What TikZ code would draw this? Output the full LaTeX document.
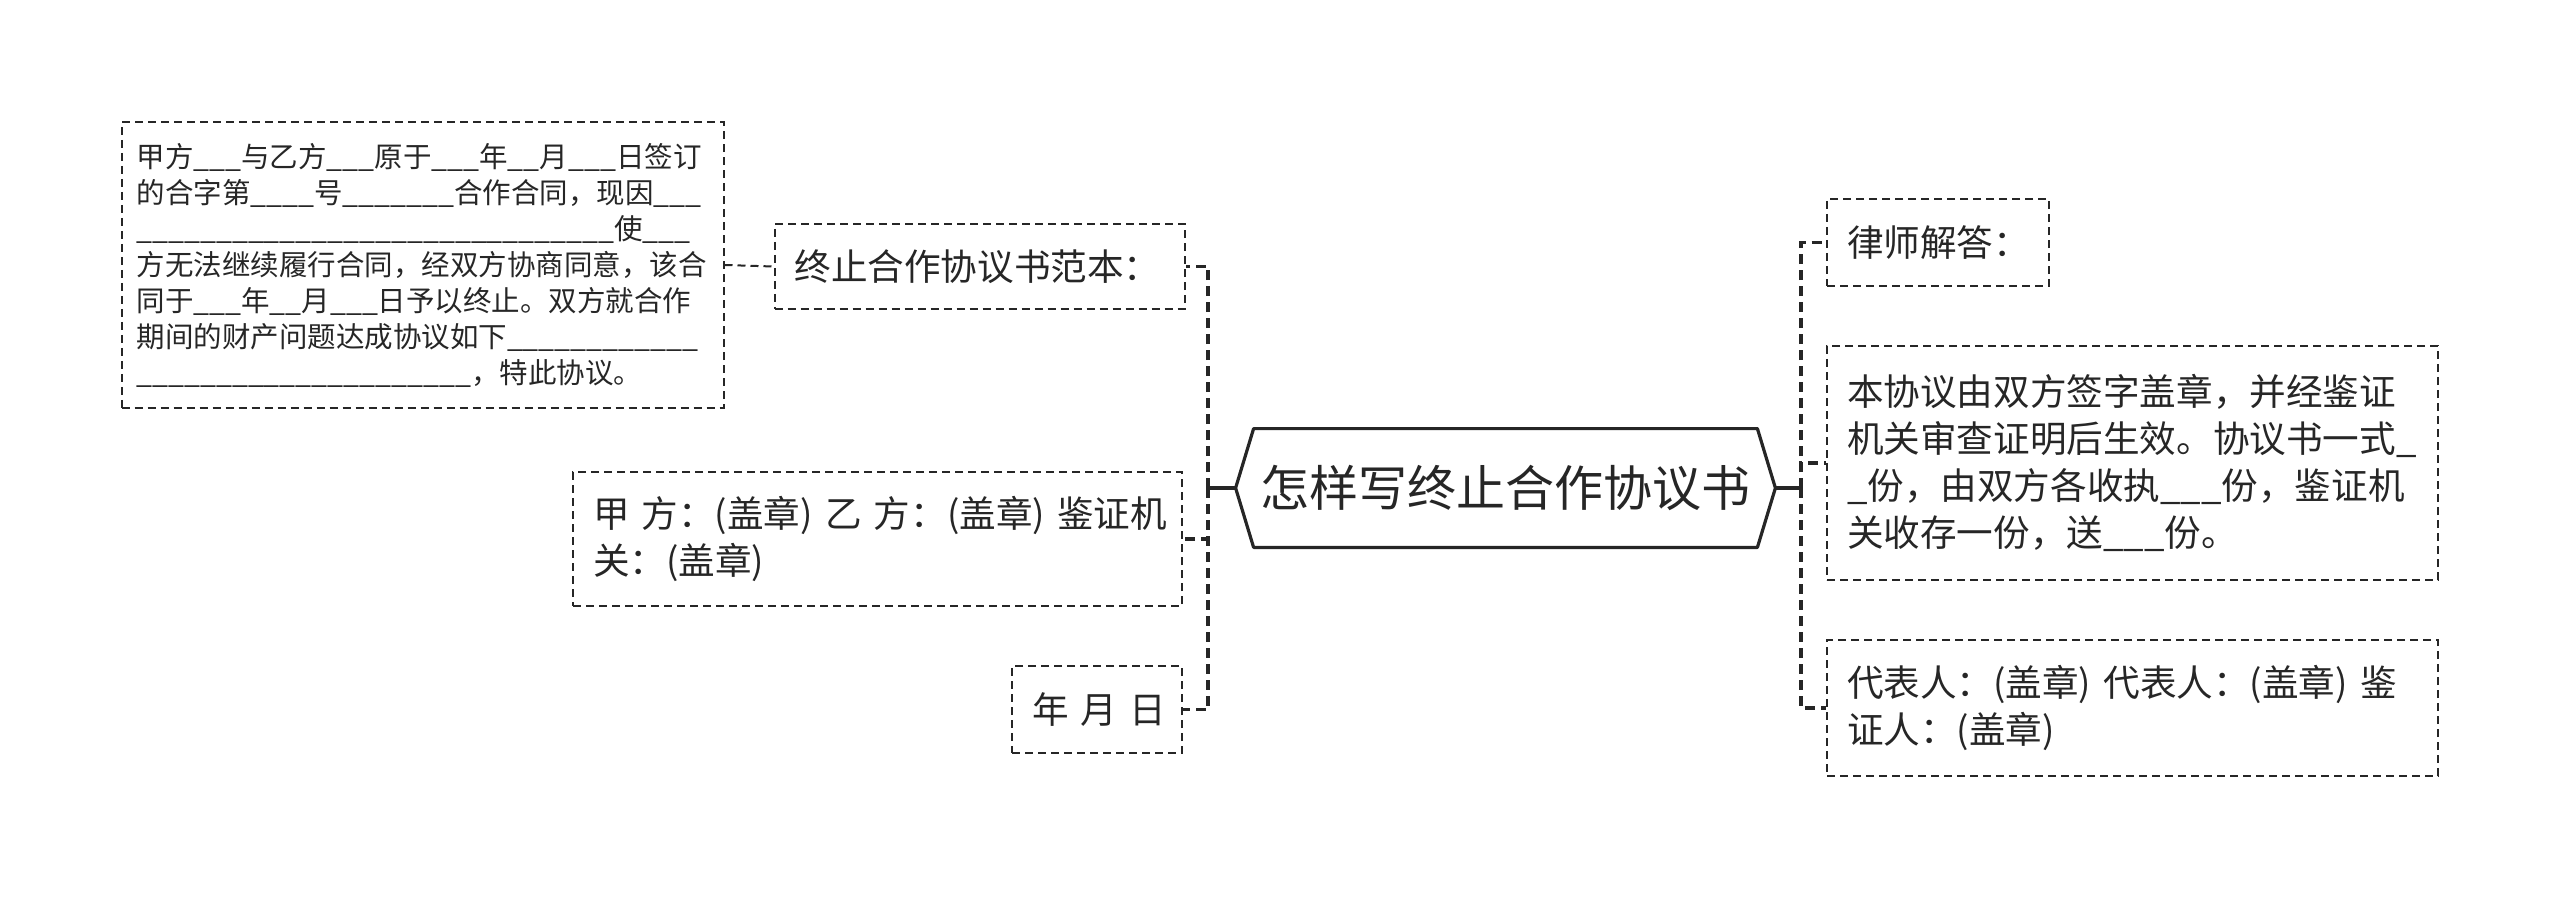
\documentclass[tikz,border=0pt]{standalone}
\usepackage{fontspec}
\setmainfont{Noto Sans CJK SC}
\usetikzlibrary{calc}

\newcommand\blank[1]{\foreach \i in {1,...,#1}{\_}}

\begin{document}
\begin{tikzpicture}[x=0.5pt, y=-0.5pt,
	leaf/.style={draw=black!85, rectangle, line width=1pt, dash pattern=on 4pt off 2.5pt, align=left, inner xsep=10pt, inner ysep=0pt, text=black!85, font=\fontsize{18.3pt}{23.5pt}\selectfont},
	link/.style={draw=black!85, line width=1.6pt, dash pattern=on 5pt off 3pt},
	thinlink/.style={draw=black!85, line width=1pt, dash pattern=on 4pt off 2.5pt},
	stem/.style={draw=black!85, line width=1.6pt}]
	\useasboundingbox (0,0) rectangle (2560,899);
	
	% centre
	\node[rectangle, inner sep=0pt, minimum width=269.5pt, minimum height=59pt, text=black!85, font=\fontsize{24.5pt}{29pt}\selectfont] (root) at (1505.5,488) {怎样写终止合作协议书};
	\draw[stem, line join=round] (root.west) -- ($(root.north west)+(9pt,0)$) -- ($(root.north east)+(-9pt,0)$) -- (root.east) -- ($(root.south east)+(-9pt,0)$) -- ($(root.south west)+(9pt,0)$) -- cycle;
	\coordinate (ltrunk) at (1208,488);
	\coordinate (rtrunk) at (1801,488);
	
	% left side
	\node[leaf, text width=185pt, minimum height=42.5pt] (sample) at (979.5,266.5) {终止合作协议书范本：};
	\node[leaf, inner xsep=7.5pt, text width=286pt, minimum height=143pt, font=\fontsize{14.25pt}{18pt}\selectfont] (template) at (422.5,265) {甲方\blank{3}与乙方\blank{3}原于\blank{3}年\blank{2}月\blank{3}日签订\\
		的合字第\blank{4}号\blank{7}合作合同，现因\blank{3}\\
		\blank{30}使\blank{3}\\
		方无法继续履行合同，经双方协商同意，该合\\
		同于\blank{3}年\blank{2}月\blank{3}日予以终止。双方就合作\\
		期间的财产问题达成协议如下\blank{12}\\
		\blank{21}，特此协议。};
	\node[leaf, text width=284.5pt, minimum height=67pt] (sign) at (877.5,539) {\mbox{甲 方：(盖章) 乙 方：(盖章) 鉴证机}\\关：(盖章)};
	\node[leaf, text width=65pt, minimum height=43.5pt] (date) at (1097,709.5) {\mbox{年 月 日}};
	
	% right side
	\node[leaf, text width=91pt, minimum height=43.5pt] (lawyer) at (1938,242.5) {律师解答：};
	\node[leaf, text width=285.5pt, minimum height=117pt] (effect) at (2132.5,463) {本协议由双方签字盖章，并经鉴证\\
		机关审查证明后生效。协议书一式\_\\
		\_份，由双方各收执\blank{3}份，鉴证机\\
		关收存一份，送\blank{3}份。};
	\node[leaf, text width=285.5pt, minimum height=68pt] (agent) at (2132.5,708) {\mbox{代表人：(盖章) 代表人：(盖章) 鉴}\\证人：(盖章)};
	
	% links
	\draw[stem] (root.west) -- (ltrunk);
	\draw[link] (ltrunk) |- (sample.east);
	\draw[link] (ltrunk) |- (sign.east);
	\draw[link] (ltrunk) |- (date.east);
	\draw[thinlink] (template.east) -- (sample.west);
	\draw[stem] (root.east) -- (rtrunk);
	\draw[link] (rtrunk) |- (lawyer.west);
	\draw[link] (rtrunk) |- (effect.west);
	\draw[link] (rtrunk) |- (agent.west);
\end{tikzpicture}
\end{document}
